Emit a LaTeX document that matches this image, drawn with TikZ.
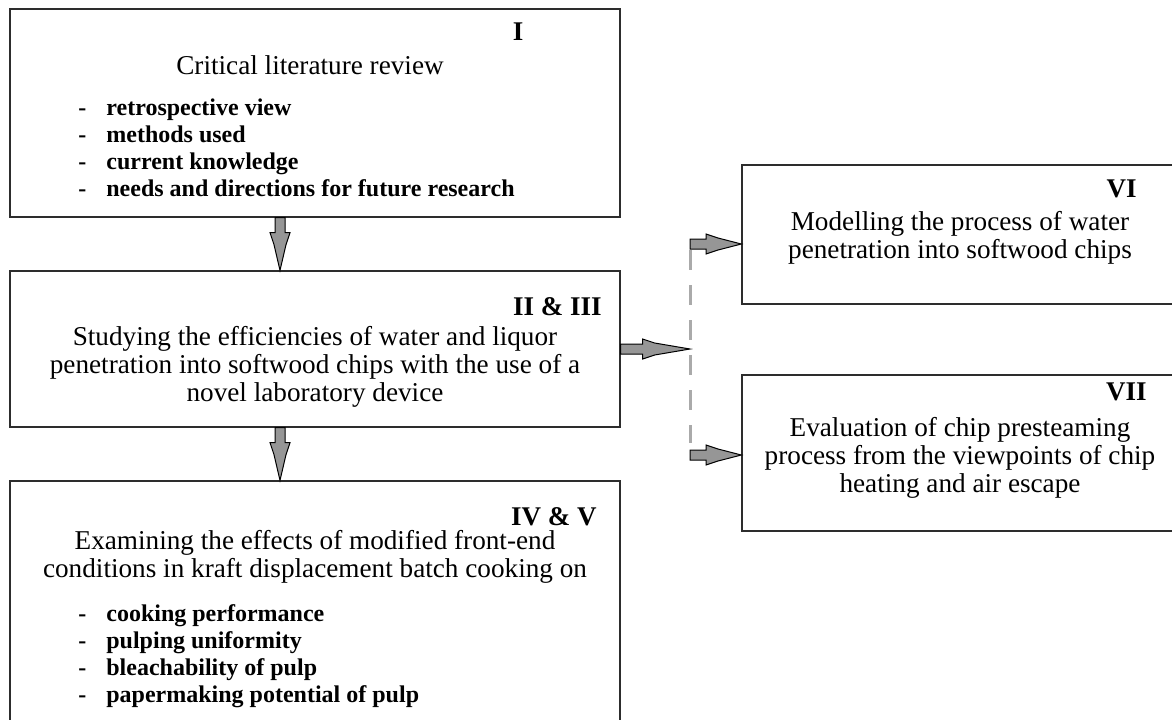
\documentclass[tikz,border=0pt]{standalone}
\usepackage{fontspec}
\setmainfont{Liberation Serif}
\usetikzlibrary{calc}
\definecolor{arrgray}{RGB}{150,150,150}
\definecolor{dashgray}{RGB}{170,170,170}
\definecolor{boxline}{RGB}{45,45,45}
\newcommand{\itemdash}{\makebox[14pt][l]{-}}
\tikzset{
    box/.style={draw=boxline,line width=0.65pt,inner sep=0pt},
    txt/.style={inner sep=0pt,align=center,font=\fontsize{13.6}{13.9}\selectfont},
    num/.style={inner sep=0pt,font=\fontsize{13.5}{14}\selectfont\bfseries},
    items/.style={inner sep=0pt,align=left,font=\fontsize{12}{13.6}\selectfont\bfseries},
    dashline/.style={draw=dashgray,line width=1.5pt,dash pattern=on 10pt off 7.5pt},
    blockarr/.style={draw=black,fill=arrgray,line width=0.5pt,line join=miter,
        to path={
            -- ($(\tikztostart)!2.5pt!90:(\tikztotarget)$)
            -- ($(\tikztostart)!#1!(\tikztotarget)!2.5pt!90:(\tikztotarget)$)
            -- ($(\tikztostart)!#1!(\tikztotarget)!5pt!90:(\tikztotarget)$)
            -- ($(\tikztostart)!#1!(\tikztotarget)!6pt!(\tikztotarget)!3pt!90:(\tikztotarget)$)
            -- (\tikztotarget)
            -- ($(\tikztostart)!#1!(\tikztotarget)!6pt!(\tikztotarget)!3pt!-90:(\tikztotarget)$)
            -- ($(\tikztostart)!#1!(\tikztotarget)!5pt!-90:(\tikztotarget)$)
            -- ($(\tikztostart)!#1!(\tikztotarget)!2.5pt!-90:(\tikztotarget)$)
            -- ($(\tikztostart)!2.5pt!-90:(\tikztotarget)$)
            -- cycle}},
    blockarr/.default=11pt
}

\begin{document}
\begin{tikzpicture}[x=0.5pt,y=-0.5pt]
    \useasboundingbox (0,0) rectangle (1172,719);
    \fill[white] (0,0) rectangle (1172,719);
    \clip (0,0) rectangle (1172,719);

    \node[box,minimum width=305pt,minimum height=104pt] (lit) at (315,113) {};
    \node[box,minimum width=305pt,minimum height=78pt] (pen) at (315,349) {};
    \node[box,minimum width=305pt,minimum height=139pt] (cook) at (315,620) {};
    \node[box,minimum width=218pt,minimum height=69.5pt] (model) at (960,234.5) {};
    \node[box,minimum width=218pt,minimum height=78pt] (steam) at (960,453) {};

    \node[num] (litnum) at (518,32) {I};
    \node[txt] (littxt) at (310,65) {Critical literature review};
    \node[items,anchor=west] (litlist) at (78,148) {\itemdash retrospective view\\
        \itemdash methods used\\ \itemdash current knowledge\\
        \itemdash needs and directions for future research};

    \node[num,anchor=east] (pennum) at (602,307) {II \& III};
    \node[txt] (pentxt) at (315,367) {Studying the efficiencies of water and liquor\\
        penetration into softwood chips with the use of a\\ novel laboratory device};

    \node[num,anchor=east] (cooknum) at (597,517) {IV \& V};
    \node[txt] (cooktxt) at (315,557) {Examining the effects of modified front-end\\
        conditions in kraft displacement batch cooking on};
    \node[items,anchor=west] (cooklist) at (78,656) {\itemdash cooking performance\\
        \itemdash pulping uniformity\\ \itemdash bleachability of pulp\\
        \itemdash papermaking potential of pulp};

    \node[num,anchor=east] (modelnum) at (1137,189) {VI};
    \node[txt] (modeltxt) at (960,237.5) {Modelling the process of water\\
        penetration into softwood chips};

    \node[num,anchor=east] (steamnum) at (1147,392) {VII};
    \node[txt] (steamtxt) at (960,458) {Evaluation of chip presteaming\\
        process from the viewpoints of chip\\ heating and air escape};

    \coordinate (ax) at (280,0);
    \coordinate (split) at (690,349);
    \coordinate (dtop) at (690,250);
    \coordinate (dbot) at (690,443);
    \coordinate (in6) at (690,244);
    \coordinate (in7) at (690,455);

    \draw[blockarr=7.5pt] (lit.south -| ax) to (pen.north -| ax);
    \draw[blockarr=7.5pt] (pen.south -| ax) to (cook.north -| ax);
    \draw[blockarr] (pen.east) to (split);
    \draw[dashline] (dtop) -- (dbot);
    \draw[blockarr=8pt] (in6) to (in6 -| model.west);
    \draw[blockarr=8pt] (in7) to (in7 -| steam.west);
\end{tikzpicture}
\end{document}
